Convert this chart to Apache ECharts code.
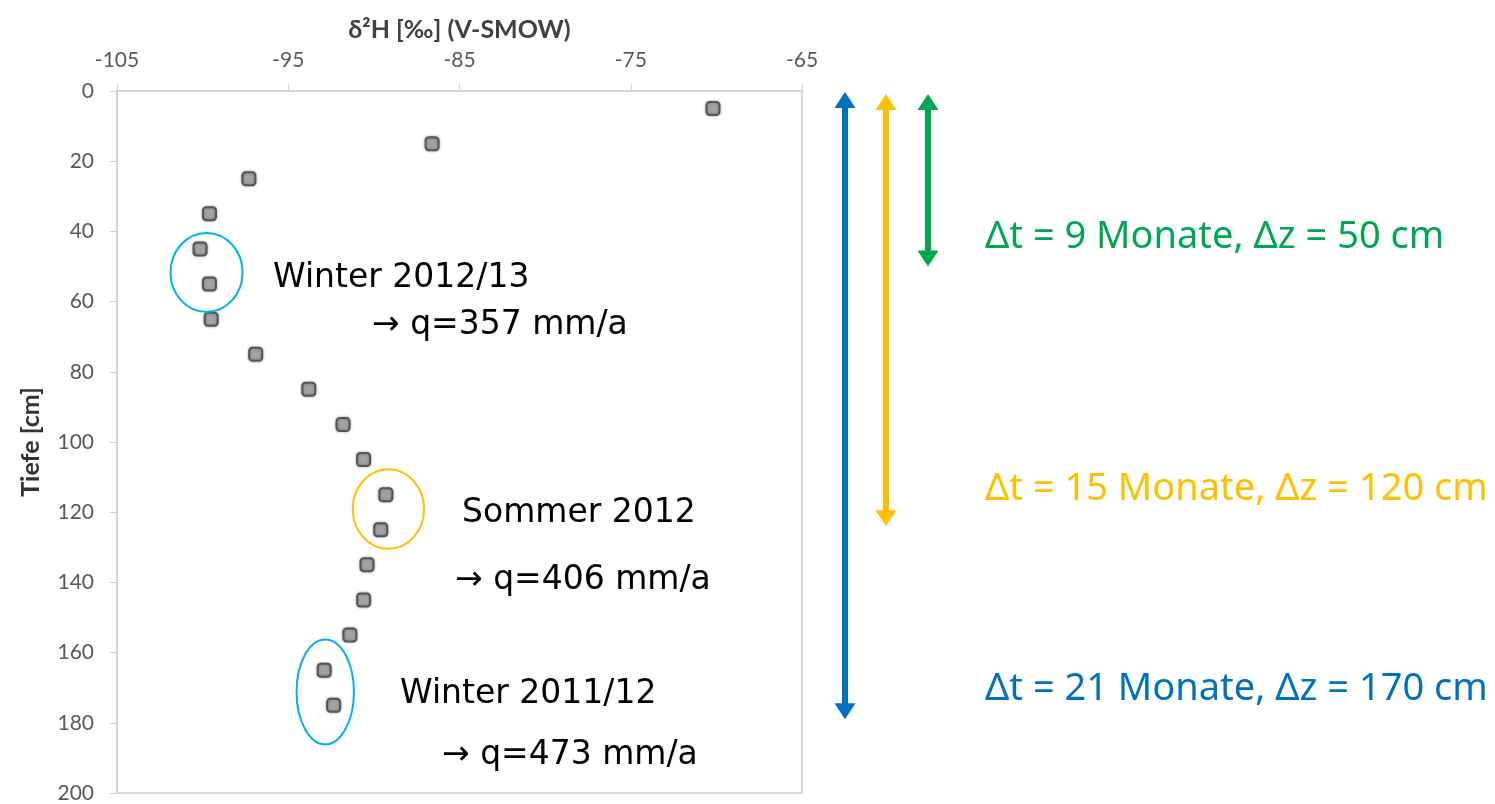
<!DOCTYPE html>
<html>
<head>
<meta charset="utf-8">
<script src="https://cdn.jsdelivr.net/npm/echarts@6/dist/echarts.min.js"></script>
<style>
html,body{margin:0;padding:0;background:#fff;}
#chart{width:1495px;height:804px;}
</style>
</head>
<body>
<div id="chart"></div>
<script>
// ---- data ----
const depthCm = [5, 15, 25, 35, 45, 55, 65, 75, 85, 95, 105, 115, 125, 135, 145, 155, 165, 175];
const d2H = [-70.2, -86.6, -97.3, -99.6, -100.15, -99.6, -99.5, -96.9, -93.8, -91.8, -90.6, -89.3, -89.6, -90.4, -90.6, -91.4, -92.9, -92.35];
const xTicks = [-105, -95, -85, -75, -65];
const yTicks = [0, 20, 40, 60, 80, 100, 120, 140, 160, 180, 200];

// annotation groups (data-space centers, depth ranges)
const groupLabels = ['Winter 2012/13', 'Sommer 2012', 'Winter 2011/12'];
const groupRates = ['→ q=357 mm/a', '→ q=406 mm/a', '→ q=473 mm/a'];
const groupCenters = [[-99.77, 51.7], [-89.15, 119.1], [-92.84, 171.2]];
const spanTexts = ['Δt = 9 Monate, Δz = 50 cm', 'Δt = 15 Monate, Δz = 120 cm', 'Δt = 21 Monate, Δz = 170 cm'];
const spanDepths = [50, 124, 179];

const chart = echarts.init(document.getElementById('chart'), null, {renderer: 'canvas'});
const axisGrey = '#d0d0d0';
const labelGrey = '#595959';

const option = {
  animation: false,
  backgroundColor: '#fff',
  grid: {left: 117, right: 693, top: 91, bottom: 11, show: true, borderColor: '#d9d9d9', borderWidth: 2},
  xAxis: {
    type: 'value', position: 'top', min: -105, max: -65, interval: 10,
    name: 'δ²H [‰] (V-SMOW)', nameLocation: 'middle', nameGap: 49,
    nameTextStyle: {fontFamily: 'Lato', fontWeight: 'bold', fontSize: 25, color: '#404040'},
    axisLine: {show: true, lineStyle: {color: axisGrey, width: 1.5}},
    axisTick: {show: true, inside: false, length: 7, lineStyle: {color: axisGrey}},
    axisLabel: {margin: 20, fontFamily: 'Lato', fontSize: 21, color: labelGrey,
      formatter: v => xTicks.includes(v) ? String(v) : ''},
    splitLine: {show: false}
  },
  yAxis: {
    type: 'value', inverse: true, min: 0, max: 200, interval: 20,
    name: 'Tiefe [cm]', nameLocation: 'middle', nameGap: 74, nameRotate: 90,
    nameTextStyle: {fontFamily: 'Lato', fontWeight: 'bold', fontSize: 25, color: '#333'},
    axisLine: {show: true, lineStyle: {color: axisGrey, width: 1.5}},
    axisTick: {show: true, inside: false, length: 7, lineStyle: {color: axisGrey}},
    axisLabel: {margin: 23, fontFamily: 'Lato', fontSize: 21, color: labelGrey,
      formatter: v => yTicks.includes(v) ? String(v) : ''},
    splitLine: {show: false}
  },
  series: [{
    type: 'scatter',
    data: depthCm.map((d, i) => [d2H[i], d]),
    symbol: 'roundRect', symbolSize: 13,
    itemStyle: {color: '#a3a3a3', borderColor: '#555555', borderWidth: 2, opacity: 1,
      shadowBlur: 3, shadowColor: 'rgba(0,0,0,0.3)'}
  }]
};
chart.setOption(option);

// ---- annotations ----
const px = (x, y) => chart.convertToPixel({gridIndex: 0}, [x, y]);
const ellipseStyle = [
  {rx: 36, ry: 39.5, color: '#00b0f0'},
  {rx: 35.7, ry: 39.7, color: '#ffc000'},
  {rx: 28.7, ry: 52.5, color: '#00b0f0'}
];
const labelPos = [[273, 278], [462, 513], [400, 694]];
const ratePos = [[372, 325], [455, 580], [442, 755]];
const graphics = [];
groupCenters.forEach((c, i) => {
  const p = px(c[0], c[1]);
  graphics.push({type: 'ellipse', shape: {cx: p[0], cy: p[1], rx: ellipseStyle[i].rx, ry: ellipseStyle[i].ry},
    style: {fill: 'none', stroke: ellipseStyle[i].color, lineWidth: 2}, z: 100});
  graphics.push({type: 'text', x: labelPos[i][0], y: labelPos[i][1],
    style: {text: groupLabels[i], font: '33px "DejaVu Sans"', fill: '#000', verticalAlign: 'middle'}, z: 100});
  graphics.push({type: 'text', x: ratePos[i][0], y: ratePos[i][1],
    style: {text: groupRates[i], font: '33px "DejaVu Sans"', fill: '#000', verticalAlign: 'middle'}, z: 100});
});

const arrowColors = ['#00a651', '#ffc000', '#0070c0'];
const arrowX = [928, 886, 845];
const spanTextY = [237, 489, 689];
function arrow(x, y0, y1, color) {
  const hw = 10.5, hl = 16;
  return [
    {type: 'line', shape: {x1: x, y1: y0 + hl - 1, x2: x, y2: y1 - hl + 1}, style: {stroke: color, lineWidth: 6}, z: 100},
    {type: 'polygon', shape: {points: [[x, y0], [x - hw, y0 + hl], [x + hw, y0 + hl]]}, style: {fill: color}, z: 100},
    {type: 'polygon', shape: {points: [[x, y1], [x - hw, y1 - hl], [x + hw, y1 - hl]]}, style: {fill: color}, z: 100}
  ];
}
spanDepths.forEach((d, i) => {
  const yTop = px(-65, 0)[1] + 3;
  const yBot = px(-65, d)[1];
  graphics.push(...arrow(arrowX[i], i === 2 ? yTop - 2 : yTop, yBot, arrowColors[i]));
  graphics.push({type: 'text', x: 985, y: spanTextY[i],
    style: {text: spanTexts[i], font: '38px "Noto Sans"', fill: arrowColors[i], verticalAlign: 'middle'}, z: 100});
});
chart.setOption({graphic: graphics});
</script>
</body>
</html>
